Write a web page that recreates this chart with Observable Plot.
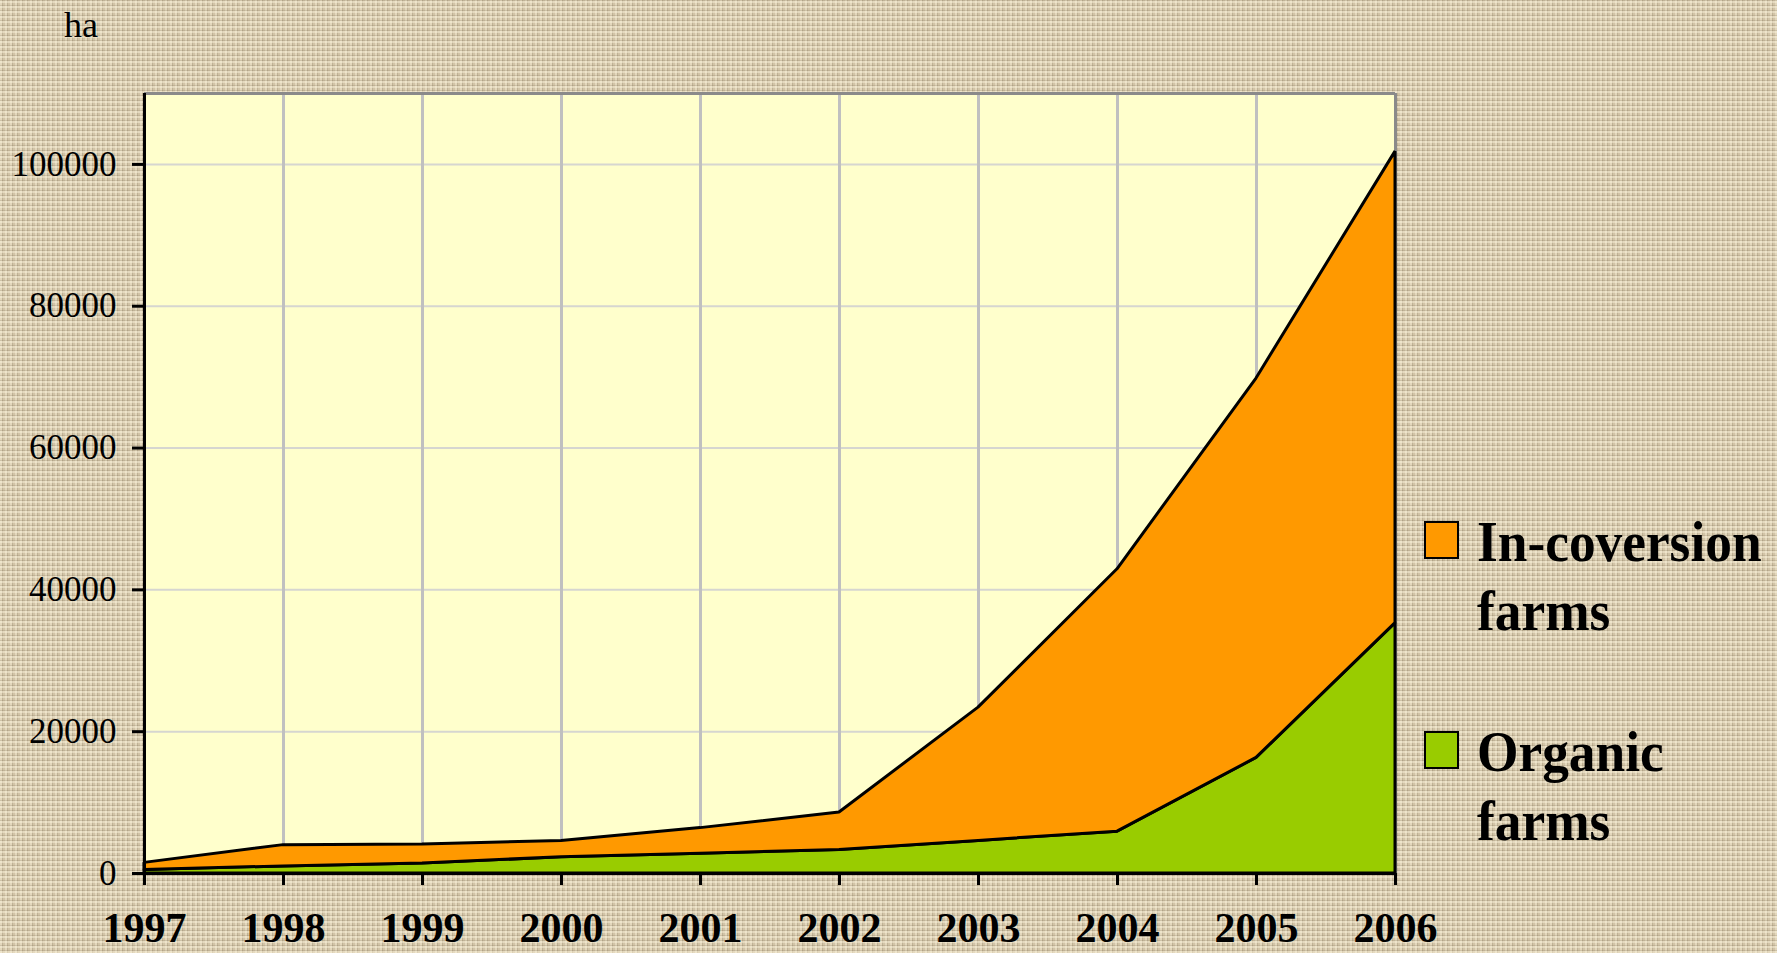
<!DOCTYPE html>
<html>
<head>
<meta charset="utf-8">
<script src="https://cdn.jsdelivr.net/npm/d3@7"></script>
<script src="https://cdn.jsdelivr.net/npm/@observablehq/plot@0.6"></script>
<style>
  html, body { margin: 0; padding: 0; }
  body {
    width: 1777px; height: 953px; overflow: hidden;
    background-color: #d2c4a7;
    background-image:
      repeating-linear-gradient(0deg, rgba(252,244,220,0.45) 0 2px, rgba(110,96,70,0.18) 2px 3px, transparent 3px 5px),
      repeating-linear-gradient(90deg, rgba(252,244,220,0.40) 0 2px, rgba(110,96,70,0.18) 2px 3px, transparent 3px 5px);
    font-family: "Liberation Serif", "Times New Roman", serif;
  }
  #wrap { position: relative; width: 1777px; height: 953px; }
  #chart { position: absolute; left: 0; top: 0; }
  #unit { position: absolute; left: 64px; top: 4px; font-size: 36px; color: #000; }
  .leg { position: absolute; left: 1424px; }
  .sw { position: absolute; left: 0; width: 31px; height: 34px; border: 2.5px solid #000; }
  .lt { position: absolute; left: 53px; font-weight: bold; font-size: 58px; line-height: 69px; white-space: nowrap;
        transform: scaleX(0.92); transform-origin: left top; color: #000; }
</style>
</head>
<body>
<div id="wrap">
  <div id="chart"></div>
  <div id="unit">ha</div>
  <div id="legend"></div>
</div>
<script>
const years = [1997, 1998, 1999, 2000, 2001, 2002, 2003, 2004, 2005, 2006];
const organic = [500, 1000, 1400, 2300, 2800, 3300, 4600, 5900, 16300, 35300];
const inConversion = [1000, 3000, 2700, 2300, 3600, 5300, 18800, 37000, 53500, 66500];
const yTicks = [0, 20000, 40000, 60000, 80000, 100000];
const seriesNames = ["Organic farms", "In-coversion farms"];
const legendLines = [["In-coversion", "farms"], ["Organic", "farms"]];
const colors = ["#99CC00", "#FF9900"];

const rows = [];
years.forEach((yr, i) => {
  rows.push({year: yr, series: seriesNames[0], value: organic[i]});
  rows.push({year: yr, series: seriesNames[1], value: inConversion[i]});
});

const chart = Plot.plot({
  width: 1777,
  height: 953,
  marginLeft: 144,
  marginRight: 382,
  marginTop: 93,
  marginBottom: 80,
  style: {background: "transparent", fontFamily: "Liberation Serif, Times New Roman, serif", color: "#000"},
  x: {domain: [1997, 2006], ticks: years, tickFormat: "d", label: null},
  y: {domain: [0, 110000], ticks: yTicks, tickFormat: d => String(d), label: null},
  color: {domain: seriesNames, range: colors},
  marks: [
    Plot.frame({fill: "#FFFFCC", stroke: null}),
    Plot.ruleY(yTicks.filter(d => d > 0), {stroke: "#d6d6d0", strokeWidth: 2}),
    Plot.ruleX(years, {stroke: "#c0c0c0", strokeWidth: 3}),
    Plot.ruleY([110000], {stroke: "#8a8a8a", strokeWidth: 3}),
    Plot.ruleX([2006], {stroke: "#8a8a8a", strokeWidth: 3}),
    Plot.areaY(rows, Plot.stackY({
      x: "year", y: "value", z: "series", fill: "series",
      order: seriesNames,
      stroke: "#000", strokeWidth: 3, strokeLinejoin: "miter"
    })),
    Plot.ruleX([1997], {stroke: "#000", strokeWidth: 3}),
    Plot.ruleY([0], {stroke: "#000", strokeWidth: 3}),
    Plot.axisX({
      ticks: years, tickFormat: "d", tickSize: 12, tickPadding: 27, strokeWidth: 3,
      fontSize: 42, fontWeight: "bold", label: null
    }),
    Plot.axisY({
      ticks: yTicks, tickFormat: d => String(d), tickSize: 12, tickPadding: 16, strokeWidth: 3,
      fontSize: 35, label: null
    })
  ]
});
document.getElementById("chart").appendChild(chart);

// Legend (HTML, beside the chart)
const legend = document.getElementById("legend");
const tops = [521, 731];
const order = [1, 0];
legendLines.forEach((lines, k) => {
  const g = document.createElement("div");
  g.className = "leg";
  g.style.top = tops[k] + "px";
  const sw = document.createElement("div");
  sw.className = "sw";
  sw.style.background = colors[order[k]];
  g.appendChild(sw);
  const t = document.createElement("div");
  t.className = "lt";
  t.style.top = "-14px";
  t.innerHTML = lines.join("<br>");
  g.appendChild(t);
  legend.appendChild(g);
});
</script>
</body>
</html>
